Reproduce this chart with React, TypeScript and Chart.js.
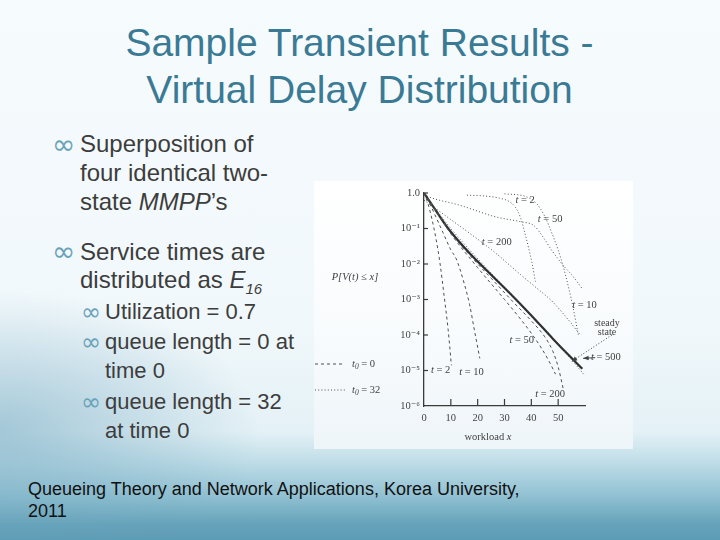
import React, { useEffect, useRef } from "react";
import { Chart, registerables } from "chart.js";

Chart.register(...registerables);

// ---------- axis ticks ----------
const xTicks = [0, 10, 20, 30, 40, 50];
const yTickValues = [1, 1e-1, 1e-2, 1e-3, 1e-4, 1e-5, 1e-6];
const yTickLabels = ["1.0", "10⁻¹", "10⁻²", "10⁻³", "10⁻⁴", "10⁻⁵", "10⁻⁶"];

// ---------- steady state (solid) ----------
const steadyX = [0, 4, 9, 17, 25, 33, 40, 48, 55, 59];
const steadyP = [1, 0.355, 0.1, 0.02, 5e-3, 1.26e-3, 3.55e-4, 7.9e-5, 2.24e-5, 1.12e-5];

// ---------- initial queue length 0 (dashed) ----------
const e2X = [0, 1.5, 3, 4.5, 6, 7.5, 9, 10.2];
const e2P = [1, 0.5, 0.178, 0.05, 0.01, 1.26e-3, 1.4e-4, 1.4e-5];
const e10X = [0, 2, 4, 7, 10, 12, 15, 17, 19, 20.8];
const e10P = [1, 0.525, 0.25, 0.079, 0.025, 0.014, 2.8e-3, 7.1e-4, 1.12e-4, 2.2e-5];
const e50X = [0, 5, 10, 20, 30, 36, 40, 44, 47, 49];
const e50P = [1, 0.28, 0.071, 7.9e-3, 1e-3, 2.8e-4, 1.12e-4, 4e-5, 1.6e-5, 7.9e-6];
const e200X = [0, 9, 17, 25, 33, 40, 45, 48, 50, 52];
const e200P = [1, 0.095, 0.0178, 4e-3, 8.9e-4, 2.5e-4, 8.9e-5, 3.5e-5, 1.26e-5, 2.8e-6];

// ---------- initial queue length 32 (dotted) ----------
const f2X = [16, 22, 28, 32, 34, 36, 37.5, 39, 40.2, 41.5];
const f2P = [0.87, 0.83, 0.72, 0.56, 0.4, 0.2, 0.079, 0.028, 0.0112, 3.2e-3];
const f10X = [30, 38, 42, 45, 47.5, 50, 52, 54, 55.5, 57.5];
const f10P = [0.95, 0.79, 0.5, 0.22, 0.079, 0.025, 7.9e-3, 2e-3, 6.3e-4, 1e-4];
const f50X = [0, 3, 13, 27, 36, 41, 44, 48, 52, 55, 59];
const f50P = [0.89, 0.72, 0.46, 0.21, 0.155, 0.12, 0.063, 0.022, 8.9e-3, 5e-3, 2e-3];
const f200X = [0, 10, 20, 26, 36, 42, 48, 54.5, 58.2];
const f200P = [0.63, 0.178, 0.05, 0.0224, 5e-3, 2.1e-3, 8.5e-4, 2.3e-4, 1e-4];
const f500X = [0, 10, 20, 30, 40, 50, 55, 60];
const f500P = [0.95, 0.1, 0.0141, 2.24e-3, 3.55e-4, 5.6e-5, 2e-5, 7.1e-6];

// ---------- in-plot labels (t = ...) ----------
const curveLabels = [
  { t: "2", x: 37.7, p: 0.62 },
  { t: "50", x: 47, p: 0.178 },
  { t: "200", x: 27.1, p: 0.042 },
  { t: "10", x: 59.8, p: 6.9e-4 },
  { t: "50", x: 36.4, p: 7.1e-5 },
  { t: "200", x: 47, p: 2.2e-6 },
  { t: "2", x: 6.2, p: 1.0e-5 },
  { t: "10", x: 17.7, p: 9.1e-6 },
  { t: "500", x: 67.8, p: 2.3e-5 },
];
const steadyText = ["steady", "state"];
const steadyTextX = 68.2;
const steadyTextP = [2.1e-4, 1.17e-4];
const steadyLeader = { x0: 70, p0: 1.0e-4, x1: 55, p1: 1.8e-5 };
const t500Arrow = { x0: 63.8, p0: 2.3e-5, x1: 59.3, p1: 2.2e-5 };

const DASHED = [3, 3];
const DOTTED = [1, 2.2];
const LINE = "#4e4e4e";

function pts(xs: number[], ps: number[]) {
  return xs.map((x, i) => ({ x, y: ps[i] }));
}

const SERIF = "'Liberation Serif', 'DejaVu Serif', serif";

function drawTLabel(ctx: CanvasRenderingContext2D, num: string, cx: number, cy: number) {
  const it = `italic 10.5px ${SERIF}`;
  const nm = `10.5px ${SERIF}`;
  ctx.font = it;
  const w1 = ctx.measureText("t").width;
  ctx.font = nm;
  const rest = " = " + num;
  const w2 = ctx.measureText(rest).width;
  const x0 = cx - (w1 + w2) / 2;
  ctx.textAlign = "left";
  ctx.textBaseline = "middle";
  ctx.font = it;
  ctx.fillText("t", x0, cy);
  ctx.font = nm;
  ctx.fillText(rest, x0 + w1, cy);
}

function arrowHead(ctx: CanvasRenderingContext2D, x0: number, y0: number, x1: number, y1: number, size: number) {
  const a = Math.atan2(y1 - y0, x1 - x0);
  ctx.beginPath();
  ctx.moveTo(x1, y1);
  ctx.lineTo(x1 - size * Math.cos(a - 0.4), y1 - size * Math.sin(a - 0.4));
  ctx.lineTo(x1 - size * Math.cos(a + 0.4), y1 - size * Math.sin(a + 0.4));
  ctx.closePath();
  ctx.fill();
}

const overlayPlugin = {
  id: "overlay",
  afterDraw(chart: any) {
    const { ctx, chartArea, scales } = chart;
    const xs = scales.x;
    const ys = scales.y;
    ctx.save();
    ctx.strokeStyle = "#3a3a3a";
    ctx.fillStyle = "#3a3a3a";
    ctx.lineWidth = 1.2;
    // inward tick marks
    xTicks.slice(1).forEach((v) => {
      const px = xs.getPixelForValue(v);
      ctx.beginPath();
      ctx.moveTo(px, chartArea.bottom);
      ctx.lineTo(px, chartArea.bottom - 7);
      ctx.stroke();
    });
    yTickValues.slice(0, -1).forEach((v) => {
      const py = ys.getPixelForValue(v);
      ctx.beginPath();
      ctx.moveTo(chartArea.left, py);
      ctx.lineTo(chartArea.left + 4, py);
      ctx.stroke();
    });

    ctx.fillStyle = "#404040";
    // curve labels
    curveLabels.forEach((l) => {
      drawTLabel(ctx, l.t, xs.getPixelForValue(l.x), ys.getPixelForValue(l.p));
    });
    ctx.font = `10px ${SERIF}`;
    ctx.textAlign = "center";
    ctx.textBaseline = "middle";
    steadyText.forEach((s, i) => {
      ctx.fillText(s, xs.getPixelForValue(steadyTextX), ys.getPixelForValue(steadyTextP[i]));
    });

    // steady state leader (dotted) with head
    ctx.lineWidth = 1;
    ctx.strokeStyle = "#404040";
    ctx.fillStyle = "#404040";
    let ax0 = xs.getPixelForValue(steadyLeader.x0);
    let ay0 = ys.getPixelForValue(steadyLeader.p0);
    let ax1 = xs.getPixelForValue(steadyLeader.x1);
    let ay1 = ys.getPixelForValue(steadyLeader.p1);
    ctx.setLineDash([1, 2]);
    ctx.beginPath();
    ctx.moveTo(ax0, ay0);
    ctx.lineTo(ax1, ay1);
    ctx.stroke();
    ctx.setLineDash([]);
    arrowHead(ctx, ax0, ay0, ax1, ay1, 6);

    // t = 500 arrow
    ax0 = xs.getPixelForValue(t500Arrow.x0);
    ay0 = ys.getPixelForValue(t500Arrow.p0);
    ax1 = xs.getPixelForValue(t500Arrow.x1);
    ay1 = ys.getPixelForValue(t500Arrow.p1);
    ctx.beginPath();
    ctx.moveTo(ax0, ay0);
    ctx.lineTo(ax1, ay1);
    ctx.stroke();
    arrowHead(ctx, ax0, ay0, ax1, ay1, 6);

    // y axis title
    ctx.font = `italic 10.5px ${SERIF}`;
    ctx.textAlign = "center";
    ctx.fillText("P[V(t) ≤ x]", chartArea.left - 69, chartArea.top + 84);

    // x axis title
    const xt1 = "workload ";
    ctx.font = `10.5px ${SERIF}`;
    const wA = ctx.measureText(xt1).width;
    ctx.font = `italic 10.5px ${SERIF}`;
    const wB = ctx.measureText("x").width;
    const xc = chartArea.left + 64;
    const yc = chartArea.bottom + 31;
    ctx.textAlign = "left";
    ctx.font = `10.5px ${SERIF}`;
    ctx.fillText(xt1, xc - (wA + wB) / 2, yc);
    ctx.font = `italic 10.5px ${SERIF}`;
    ctx.fillText("x", xc - (wA + wB) / 2 + wA, yc);

    // legend for initial queue length
    const rows = [
      { dash: DASHED, val: "0", dy: 171 },
      { dash: DOTTED, val: "32", dy: 197 },
    ];
    rows.forEach((r) => {
      const y = chartArea.top + r.dy;
      const lx = chartArea.left - 109;
      ctx.setLineDash(r.dash);
      ctx.strokeStyle = LINE;
      ctx.beginPath();
      ctx.moveTo(lx, y);
      ctx.lineTo(lx + 30, y);
      ctx.stroke();
      ctx.setLineDash([]);
      let tx = chartArea.left - 72;
      ctx.font = `italic 10.5px ${SERIF}`;
      ctx.textAlign = "left";
      ctx.fillText("t", tx, y);
      tx += ctx.measureText("t").width;
      ctx.font = `italic 7.5px ${SERIF}`;
      ctx.fillText("0", tx, y + 3.5);
      tx += ctx.measureText("0").width;
      ctx.font = `10.5px ${SERIF}`;
      ctx.fillText(" = " + r.val, tx, y);
    });
    ctx.restore();
  },
};

function ChartBox() {
  const ref = useRef<HTMLCanvasElement | null>(null);
  useEffect(() => {
    if (!ref.current) return;
    const mk = (label: string, xs: number[], ps: number[], dash: number[], width = 1, color = LINE) => ({
      label,
      data: pts(xs, ps),
      borderColor: color,
      borderWidth: width,
      borderDash: dash,
      pointRadius: 0,
      fill: false,
      cubicInterpolationMode: "monotone" as const,
    });
    const chart = new Chart(ref.current, {
      type: "line",
      data: {
        datasets: [
          mk("t = 2, t0 = 0", e2X, e2P, DASHED),
          mk("t = 10, t0 = 0", e10X, e10P, DASHED),
          mk("t = 50, t0 = 0", e50X, e50P, DASHED),
          mk("t = 200, t0 = 0", e200X, e200P, DASHED),
          mk("t = 2, t0 = 32", f2X, f2P, DOTTED),
          mk("t = 10, t0 = 32", f10X, f10P, DOTTED),
          mk("t = 50, t0 = 32", f50X, f50P, DOTTED),
          mk("t = 200, t0 = 32", f200X, f200P, DOTTED),
          mk("t = 500, t0 = 32", f500X, f500P, DOTTED),
          mk("steady state", steadyX, steadyP, [], 2.2, "#2c2c2c"),
        ],
      },
      options: {
        animation: false,
        responsive: true,
        maintainAspectRatio: false,
        layout: { padding: { left: 0, right: 48, top: 12, bottom: 0 } },
        plugins: { legend: { display: false }, tooltip: { enabled: false } },
        scales: {
          x: {
            type: "linear",
            min: 0,
            max: 60,
            afterBuildTicks: (s: any) => {
              s.ticks = xTicks.map((v) => ({ value: v }));
            },
            afterFit: (s: any) => {
              s.height = 43;
            },
            grid: { display: false, drawTicks: false },
            border: { display: true, color: "#3a3a3a", width: 1.3 },
            ticks: {
              padding: 6,
              color: "#444",
              font: { family: SERIF, size: 10.5 },
              maxRotation: 0,
              autoSkip: false,
            },
          },
          y: {
            type: "logarithmic",
            min: 1e-6,
            max: 1,
            afterBuildTicks: (s: any) => {
              s.ticks = yTickValues.map((v) => ({ value: v }));
            },
            afterFit: (s: any) => {
              s.width = 110;
            },
            grid: { display: false, drawTicks: false },
            border: { display: true, color: "#3a3a3a", width: 1.3 },
            ticks: {
              padding: 4,
              color: "#444",
              font: { family: SERIF, size: 10.5 },
              autoSkip: false,
              callback: (v: any) => {
                const i = yTickValues.findIndex((t) => Math.abs(Math.log10(t) - Math.log10(v)) < 1e-6);
                return i >= 0 ? yTickLabels[i] : "";
              },
            },
          },
        },
      },
      plugins: [overlayPlugin],
    });
    return () => chart.destroy();
  }, []);
  return (
    <div
      style={{
        position: "absolute",
        left: 314,
        top: 181,
        width: 319,
        height: 268,
        background: "linear-gradient(to bottom, #ffffff 0%, #f8fbfd 60%, #eef5f8 100%)",
      }}
    >
      <canvas ref={ref} />
    </div>
  );
}

const SANS = "'Liberation Sans', Arial, sans-serif";
const TEXT = "#3d3d3d";
const BUL = "#6aa2b8";

function Line(props: { top: number; left: number; size: number; children: any }) {
  return (
    <div
      style={{
        position: "absolute",
        top: props.top,
        left: props.left,
        fontSize: props.size,
        lineHeight: 1,
        fontFamily: SANS,
        color: TEXT,
        whiteSpace: "nowrap",
      }}
    >
      {props.children}
    </div>
  );
}

function Bullet(props: { top: number; left: number; size: number }) {
  return (
    <div
      style={{
        position: "absolute",
        top: props.top,
        left: props.left,
        fontSize: props.size,
        lineHeight: 1,
        fontFamily: "'DejaVu Sans', sans-serif",
        color: BUL,
      }}
    >
      ∞
    </div>
  );
}

export default function App() {
  return (
    <div
      style={{
        position: "fixed",
        left: 0,
        top: 0,
        width: 720,
        height: 540,
        overflow: "hidden",
        background:
          "radial-gradient(ellipse 260px 140px at 0px 430px, rgba(110,165,190,0.55) 0%, rgba(110,165,190,0) 100%), linear-gradient(to bottom, #f6fbfd 0%, #f1f8fb 60%, #e4f1f6 80%, #bcdbe6 86%, #8fc0d1 92%, #66a3ba 97%, #5d9cb5 100%)",
      }}
    >
      <div
        style={{
          position: "absolute",
          left: 0,
          width: 719,
          top: 19,
          textAlign: "center",
          fontFamily: SANS,
          fontSize: 39,
          lineHeight: "47px",
          color: "#3b7a95",
        }}
      >
        <div>Sample Transient Results -</div>
        <div>Virtual Delay Distribution</div>
      </div>

      <Bullet top={130.7} left={52} size={28} />
      <Line top={132.4} left={80} size={24}>Superposition of</Line>
      <Line top={161.4} left={80} size={24}>four identical two-</Line>
      <Line top={189.7} left={80} size={24}>
        state <i>MMPP</i>’s
      </Line>
      <Bullet top={238} left={52} size={28} />
      <Line top={239.7} left={80} size={24}>Service times are</Line>
      <Line top={268} left={80} size={24}>
        distributed as <i>E</i>
        <i style={{ fontSize: 15, position: "relative", top: 6 }}>16</i>
      </Line>
      <Bullet top={300.4} left={81} size={24} />
      <Line top={301.4} left={105} size={22}>Utilization = 0.7</Line>
      <Bullet top={330.4} left={81} size={24} />
      <Line top={331.4} left={105} size={22}>queue length = 0 at</Line>
      <Line top={359.7} left={105} size={22}>time 0</Line>
      <Bullet top={390.4} left={81} size={24} />
      <Line top={391.4} left={105} size={22}>queue length = 32</Line>
      <Line top={419.7} left={105} size={22}>at time 0</Line>

      <ChartBox />

      <div
        style={{
          position: "absolute",
          left: 28,
          top: 478,
          fontFamily: SANS,
          fontSize: 18,
          lineHeight: "22px",
          color: "#111",
        }}
      >
        <div>Queueing Theory and Network Applications, Korea University,</div>
        <div>2011</div>
      </div>
    </div>
  );
}
